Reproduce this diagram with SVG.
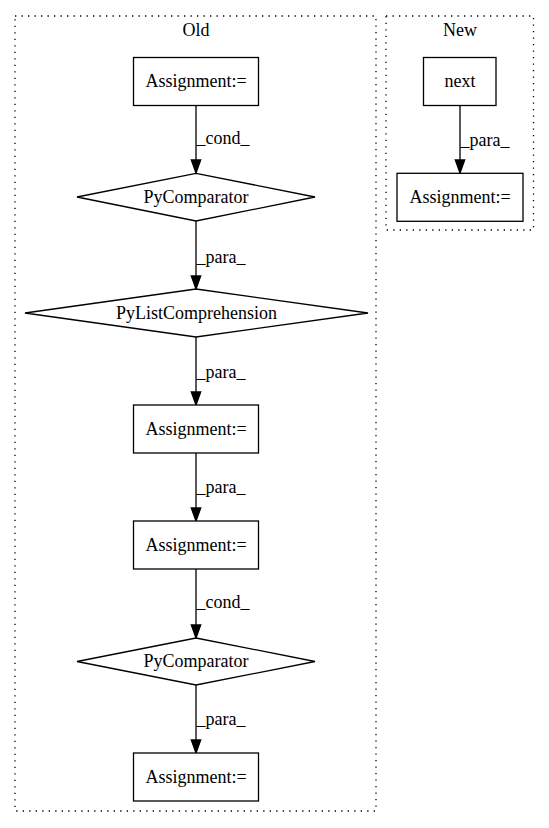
<svg xmlns="http://www.w3.org/2000/svg" width="549" height="828" viewBox="0 0 549 828">
<style>
text{font-family:"Liberation Serif","Times New Roman",serif;font-size:18px;fill:#000}
.c{fill:none;stroke:#000;stroke-width:1.3;stroke-dasharray:1.3,5.2}
.n{fill:#fff;stroke:#000;stroke-width:1.3}
.t{text-anchor:middle}
.e{stroke:#000;stroke-width:1.3;fill:none}
.a{fill:#000;stroke:#000;stroke-width:1.3}
</style>
<rect width="549" height="828" fill="#fff"/>
<g id="cluster_old">
<rect class="c" x="15" y="16" width="361" height="795"/>
<text class="t" x="196" y="36">Old</text>
</g>
<g id="cluster_new">
<rect class="c" x="386" y="16" width="147.5" height="214"/>
<text class="t" x="460" y="36">New</text>
</g>
<g id="edges">
<path class="e" d="M196,106V160"/><polygon class="a" points="191.3,160 200.7,160 196,173"/>
<text x="196.5" y="144">_cond_</text>
<path class="e" d="M196,221V276"/><polygon class="a" points="191.3,276 200.7,276 196,289"/>
<text x="196.5" y="263">_para_</text>
<path class="e" d="M196,337V392"/><polygon class="a" points="191.3,392 200.7,392 196,405"/>
<text x="196.5" y="378">_para_</text>
<path class="e" d="M196,453V508"/><polygon class="a" points="191.3,508 200.7,508 196,521"/>
<text x="196.5" y="493">_para_</text>
<path class="e" d="M196,569V625"/><polygon class="a" points="191.3,625 200.7,625 196,638"/>
<text x="196.5" y="608">_cond_</text>
<path class="e" d="M196,685V740"/><polygon class="a" points="191.3,740 200.7,740 196,753"/>
<text x="196.5" y="725">_para_</text>
<path class="e" d="M460,105V160"/><polygon class="a" points="455.3,160 464.7,160 460,173"/>
<text x="460.5" y="145.5">_para_</text>
</g>
<g id="n1"><rect class="n" x="133.5" y="57.5" width="125" height="48"/><text class="t" x="196" y="87">Assignment:=</text></g>
<g id="n2"><polygon class="n" points="196,173.3 315,197 196,221 77,197"/><text class="t" x="196" y="203">PyComparator</text></g>
<g id="n3"><polygon class="n" points="196,289 368,313 196,337 25,313"/><text class="t" x="196.5" y="319">PyListComprehension</text></g>
<g id="n4"><rect class="n" x="133.5" y="405" width="125" height="48"/><text class="t" x="196" y="435">Assignment:=</text></g>
<g id="n5"><rect class="n" x="133.5" y="521" width="125" height="48"/><text class="t" x="196" y="551">Assignment:=</text></g>
<g id="n6"><polygon class="n" points="196,638 315,661.5 196,685 77,661.5"/><text class="t" x="196" y="667">PyComparator</text></g>
<g id="n7"><rect class="n" x="133.5" y="753" width="125" height="48"/><text class="t" x="196" y="783">Assignment:=</text></g>
<g id="n8"><rect class="n" x="423.5" y="57.5" width="72.5" height="48"/><text class="t" x="460" y="87">next</text></g>
<g id="n9"><rect class="n" x="397" y="173.3" width="126" height="48"/><text class="t" x="460" y="203">Assignment:=</text></g>
</svg>
